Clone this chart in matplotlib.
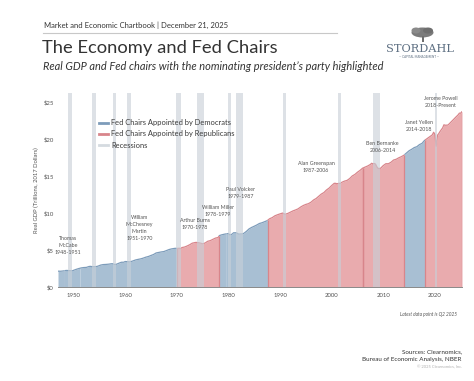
import numpy as np
import matplotlib
matplotlib.use("Agg")
import matplotlib.pyplot as plt
from matplotlib.lines import Line2D
from matplotlib.patches import Ellipse, Rectangle

plt.rcParams['font.family'] = ['Lato', 'DejaVu Sans']

# ---------------- data ----------------
# Real GDP, trillions of 2017 dollars
gdp_dates = [
    1947.00, 1947.50, 1948.00, 1948.50, 1948.75, 1949.25, 1949.75, 1950.00, 1950.50, 1951.00,
    1951.50, 1952.00, 1952.50, 1953.00, 1953.25, 1953.75, 1954.25, 1954.75, 1955.25, 1955.75,
    1956.25, 1956.75, 1957.25, 1957.50, 1958.00, 1958.25, 1958.75, 1959.25, 1959.75, 1960.00,
    1960.50, 1960.75, 1961.00, 1961.50, 1962.00, 1962.50, 1963.00, 1963.50, 1964.00, 1964.50,
    1965.00, 1965.50, 1966.00, 1966.50, 1967.00, 1967.50, 1968.00, 1968.50, 1969.00, 1969.50,
    1969.75, 1970.00, 1970.50, 1970.75, 1971.00, 1971.50, 1972.00, 1972.50, 1973.00, 1973.50,
    1973.75, 1974.25, 1974.75, 1975.00, 1975.50, 1976.00, 1976.50, 1977.00, 1977.50, 1978.00,
    1978.25, 1978.75, 1979.25, 1979.75, 1980.00, 1980.25, 1980.50, 1980.75, 1981.00, 1981.50,
    1981.75, 1982.00, 1982.50, 1982.75, 1983.00, 1983.50, 1984.00, 1984.50, 1985.00, 1985.50,
    1986.00, 1986.50, 1987.00, 1987.50, 1988.00, 1988.50, 1989.00, 1989.50, 1990.00, 1990.50,
    1990.75, 1991.00, 1991.50, 1992.00, 1992.50, 1993.00, 1993.50, 1994.00, 1994.50, 1995.00,
    1995.50, 1996.00, 1996.50, 1997.00, 1997.50, 1998.00, 1998.50, 1999.00, 1999.50, 2000.00,
    2000.50, 2000.75, 2001.00, 2001.50, 2001.75, 2002.00, 2002.50, 2003.00, 2003.50, 2004.00,
    2004.50, 2005.00, 2005.50, 2006.00, 2006.50, 2007.00, 2007.50, 2007.75, 2008.00, 2008.25,
    2008.50, 2008.75, 2009.00, 2009.25, 2009.50, 2010.00, 2010.50, 2011.00, 2011.50, 2012.00,
    2012.50, 2013.00, 2013.50, 2014.00, 2014.50, 2015.00, 2015.50, 2016.00, 2016.50, 2017.00,
    2017.50, 2018.00, 2018.50, 2019.00, 2019.50, 2019.75, 2020.00, 2020.25, 2020.50, 2020.75,
    2021.00, 2021.50, 2021.75, 2022.00, 2022.50, 2022.75, 2023.00, 2023.50, 2023.75, 2024.00,
    2024.50, 2024.75, 2025.00, 2025.25,
]
gdp_values = [
    2.18, 2.17, 2.21, 2.27, 2.28, 2.24, 2.22, 2.29, 2.42, 2.53,
    2.62, 2.67, 2.69, 2.81, 2.83, 2.78, 2.78, 2.86, 3.00, 3.07,
    3.09, 3.12, 3.17, 3.19, 3.09, 3.10, 3.24, 3.38, 3.39, 3.48,
    3.47, 3.43, 3.45, 3.56, 3.69, 3.77, 3.84, 3.94, 4.07, 4.16,
    4.30, 4.43, 4.64, 4.71, 4.78, 4.83, 4.96, 5.10, 5.19, 5.25,
    5.27, 5.25, 5.28, 5.22, 5.37, 5.44, 5.58, 5.75, 5.96, 6.04,
    6.07, 6.02, 5.94, 5.87, 5.99, 6.22, 6.31, 6.48, 6.65, 6.73,
    6.99, 7.10, 7.18, 7.24, 7.27, 7.11, 7.10, 7.21, 7.37, 7.37,
    7.29, 7.19, 7.21, 7.21, 7.30, 7.56, 7.89, 8.09, 8.25, 8.42,
    8.62, 8.72, 8.86, 9.00, 9.27, 9.42, 9.66, 9.80, 9.92, 10.03,
    9.95, 9.87, 9.98, 10.15, 10.32, 10.45, 10.60, 10.85, 11.05, 11.20,
    11.30, 11.50, 11.80, 12.00, 12.30, 12.60, 12.80, 13.15, 13.40, 13.75,
    14.05, 14.05, 14.00, 14.05, 14.05, 14.20, 14.35, 14.45, 14.70, 15.05,
    15.25, 15.55, 15.80, 16.10, 16.25, 16.40, 16.60, 16.76, 16.68, 16.74,
    16.65, 16.29, 16.07, 16.05, 16.10, 16.45, 16.70, 16.70, 16.90, 17.20,
    17.30, 17.50, 17.65, 17.85, 18.15, 18.45, 18.65, 18.88, 19.00, 19.28,
    19.45, 19.85, 20.10, 20.35, 20.60, 20.95, 20.69, 19.06, 20.55, 20.77,
    21.06, 21.54, 21.96, 21.90, 21.92, 22.07, 22.25, 22.60, 22.78, 22.96,
    23.30, 23.54, 23.52, 23.77,
]

# Fed chair tenures and party of nominating president
chair_names = ["Marriner Eccles", "Thomas McCabe", "William McChesney Martin", "Arthur Burns",
               "William Miller", "Paul Volcker", "Alan Greenspan", "Ben Bernanke",
               "Janet Yellen", "Jerome Powell"]
chair_starts = [1947.00, 1948.25, 1951.25, 1970.10, 1978.20, 1979.60, 1987.60, 2006.10, 2014.10, 2018.10]
chair_ends = [1948.25, 1951.25, 1970.10, 1978.20, 1979.60, 1987.60, 2006.10, 2014.10, 2018.10, 2025.25]
chair_party = ["D", "D", "D", "R", "D", "D", "R", "R", "D", "R"]

# NBER recessions
rec_starts = [1948.85, 1953.50, 1957.60, 1960.30, 1969.95, 1973.85, 1980.00, 1981.50, 1990.55, 2001.20, 2007.95, 2020.10]
rec_ends = [1949.80, 1954.35, 1958.30, 1961.10, 1970.85, 1975.20, 1980.55, 1982.85, 1991.20, 2001.85, 2009.45, 2020.35]

# Annotation labels
ann_text = ["Thomas\nMcCabe\n1948-1951", "William\nMcChesney\nMartin\n1951-1970",
            "Arthur Burns\n1970-1978", "William Miller\n1978-1979", "Paul Volcker\n1979-1987",
            "Alan Greenspan\n1987-2006", "Ben Bernanke\n2006-2014", "Janet Yellen\n2014-2018",
            "Jerome Powell\n2018-Present"]
ann_year = [1948.9, 1962.8, 1973.5, 1977.9, 1982.3, 1997.0, 2009.9, 2016.9, 2021.2]
ann_value = [4.4, 6.3, 7.8, 9.5, 11.9, 15.4, 18.1, 21.0, 24.2]

years_ticks = [1950, 1960, 1970, 1980, 1990, 2000, 2010, 2020]
y_ticks = [0, 5, 10, 15, 20, 25]

# ---------------- styling ----------------
fill_col = {"D": "#a8bfd3", "R": "#e9abae"}
line_col = {"D": "#7d9cba", "R": "#d8858b"}
rec_col = "#c8d0d8"
text_grey = "#555555"

W, H = 474, 381
fig = plt.figure(figsize=(W / 100, H / 100), dpi=100)
fig.patch.set_facecolor("white")

def fx(px):
    return px / W

def fy(py):
    return 1 - py / H

ax = fig.add_axes([fx(58), fy(287.3), (462 - 58) / W, (287.3 - 93) / H])
x = np.array(gdp_dates)
y = np.array(gdp_values)

for s, e, p in zip(chair_starts, chair_ends, chair_party):
    m = (x > s) & (x < e)
    xs = np.concatenate([[s], x[m], [e]])
    ys = np.interp(xs, x, y)
    ax.fill_between(xs, 0, ys, color=fill_col[p], lw=0, zorder=1)
    ax.plot(xs, ys, color=line_col[p], lw=0.9, zorder=2, solid_capstyle="butt")
    if p == "R":
        ax.vlines([s, e], 0, ys[[0, -1]], color=line_col["R"], lw=0.9, zorder=2)

for s, e in zip(rec_starts, rec_ends):
    ax.axvspan(s, e, color=rec_col, alpha=0.62, lw=0, zorder=3)

for t, yr, v in zip(ann_text, ann_year, ann_value):
    ax.text(yr, v, t, ha="center", va="bottom", fontsize=3.8, color=text_grey,
            linespacing=1.5, zorder=5)

ax.set_xlim(1947.0, 2025.25)
ax.set_ylim(0, (287.3 - 93) / 7.4)
ax.set_xticks(years_ticks)
ax.set_xticklabels([str(v) for v in years_ticks])
ax.set_yticks(y_ticks)
ax.set_yticklabels(["$" + str(v) for v in y_ticks])
ax.tick_params(axis="both", length=0, labelsize=4.3, colors=text_grey)
ax.tick_params(axis="x", pad=4)
ax.tick_params(axis="y", pad=3)
for sp in ["top", "right", "left"]:
    ax.spines[sp].set_visible(False)
ax.spines["bottom"].set_color("#8a8a8a")
ax.spines["bottom"].set_linewidth(0.7)
ax.spines["bottom"].set_zorder(6)
ax.set_ylabel("Real GDP (Trillions, 2017 Dollars)", fontsize=4.2, color=text_grey, labelpad=3)

handles = [Line2D([], [], color=line_col["D"], lw=2),
           Line2D([], [], color=line_col["R"], lw=2),
           Line2D([], [], color="#d5dbe0", lw=2)]
labels = ["Fed Chairs Appointed by Democrats", "Fed Chairs Appointed by Republicans", "Recessions"]
leg = ax.legend(handles, labels, loc="upper left", bbox_to_anchor=(0.095, 0.88), frameon=False,
                fontsize=5.4, handlelength=1.2, handletextpad=0.4, labelspacing=0.55,
                borderaxespad=0)
for t in leg.get_texts():
    t.set_color("#3a3a3a")

# ---------------- header texts ----------------
fig.text(fx(44), fy(25), "Market and Economic Chartbook | December 21, 2025", fontsize=5.5,
         color="#333333", va="center", ha="left")
fig.add_artist(Line2D([fx(43), fx(337)], [fy(33), fy(33)], color="#c8c8c8", lw=0.8))
fig.text(fx(42), fy(48), "The Economy and Fed Chairs", fontsize=13.2, color="#333333",
         va="center", ha="left")
fig.text(fx(43), fy(67), "Real GDP and Fed chairs with the nominating president\u2019s party highlighted",
         fontsize=7.9, style="italic", color="#333333", va="center", ha="left")

# logo
logo_col = "#5d6f82"
fig.add_artist(Ellipse((fx(422.5), fy(32.5)), 22 / W, 10 / H, color="#7b7b7b", lw=0))
fig.add_artist(Ellipse((fx(416), fy(30.5)), 9 / W, 6 / H, color="#8a8a8a", lw=0))
fig.add_artist(Ellipse((fx(428), fy(30.5)), 10 / W, 6 / H, color="#6e6e6e", lw=0))
fig.add_artist(Rectangle((fx(421.5), fy(42)), 2 / W, 6 / H, color="#6e6e6e", lw=0))
fig.text(fx(419.5), fy(49), "STORDAHL", fontsize=8.2, family=["DejaVu Serif"], color=logo_col,
         ha="center", va="center")
fig.text(fx(419.5), fy(56.5), "\u2014 CAPITAL MANAGEMENT \u2014", fontsize=2.2, color=logo_col,
         ha="center", va="center")

# footer
fig.text(fx(457), fy(314), "Latest data point is Q2 2025", fontsize=3.4, style="italic",
         color=text_grey, ha="right", va="center")
fig.text(fx(462), fy(352), "Sources: Clearnomics,", fontsize=4.5, color="#333333",
         ha="right", va="center")
fig.text(fx(462), fy(359.5), "Bureau of Economic Analysis, NBER", fontsize=4.5, color="#333333",
         ha="right", va="center")
fig.text(fx(462), fy(367), "\u00a9 2025 Clearnomics, Inc.", fontsize=3.0, color="#b0b0b0",
         ha="right", va="center")

fig.savefig("out.png", dpi=100)
